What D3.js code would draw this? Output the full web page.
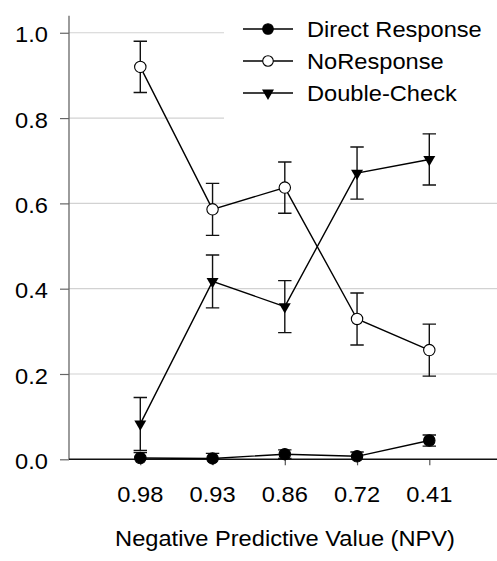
<!DOCTYPE html>
<html>
<head>
<meta charset="utf-8">
<script src="https://cdn.jsdelivr.net/npm/d3@7/dist/d3.min.js"></script>
<style>
  html, body { margin: 0; padding: 0; background: #fff; }
  svg { display: block; }
  text { font-family: "Liberation Sans", Arial, sans-serif; fill: #000; }
</style>
</head>
<body>
<svg id="chart" width="497" height="561"></svg>
<script>
// Categories along the x axis (NPV levels)
const categories = ["0.98", "0.93", "0.86", "0.72", "0.41"];

// Proportions of each response type, with error-bar half-widths
const directResponse = [0.003, 0.002, 0.012, 0.007, 0.044];
const directErr      = [0.013, 0.012, 0.010, 0.010, 0.013];
const noResponse     = [0.920, 0.586, 0.637, 0.329, 0.256];
const noRespErr      = [0.060, 0.061, 0.060, 0.061, 0.061];
const doubleCheck    = [0.083, 0.417, 0.358, 0.671, 0.703];
const doubleErr      = [0.062, 0.062, 0.061, 0.061, 0.060];

const yTicks = [0.0, 0.2, 0.4, 0.6, 0.8, 1.0];
const seriesNames = ["Direct Response", "NoResponse", "Double-Check"];
const xTitle = "Negative Predictive Value (NPV)";

const series = [
  { name: seriesNames[0], values: directResponse, err: directErr, marker: "dot" },
  { name: seriesNames[1], values: noResponse,     err: noRespErr, marker: "open" },
  { name: seriesNames[2], values: doubleCheck,    err: doubleErr, marker: "tri" }
];

const W = 497, H = 561;
const axisX = 69, plotRight = 497;
const FS = 21.5, SX = 1.1;   // font size and horizontal text stretch

const svg = d3.select("#chart");

const x = d3.scalePoint().domain(categories).range([140.3, 429.3]);
const y = d3.scaleLinear().domain([0, 1.04]).range([459.3, 15.7]);

// error bars are clipped to the plotted value range
svg.append("defs").append("clipPath").attr("id", "plotClip")
  .append("rect").attr("x", axisX).attr("y", y(1.04))
  .attr("width", plotRight - axisX).attr("height", y(0) - y(1.04));

// text helper with horizontal stretch
function label(g, tx, ty, str, anchor) {
  return g.append("text")
    .attr("transform", `translate(${tx},${ty}) scale(${SX},1)`)
    .attr("text-anchor", anchor)
    .style("font-size", FS + "px")
    .text(str);
}

// gridlines
svg.append("g").selectAll("line")
  .data(yTicks.filter(d => d > 0))
  .join("line")
  .attr("x1", axisX).attr("x2", plotRight)
  .attr("y1", d => y(d)).attr("y2", d => y(d))
  .attr("stroke", "#d2d2d2").attr("stroke-width", 1.2);

// y axis
const yAxis = svg.append("g")
  .attr("transform", `translate(${axisX},0)`)
  .call(d3.axisLeft(y).tickValues(yTicks).tickSize(9).tickFormat(() => ""));
yAxis.select(".domain").remove();
yAxis.selectAll(".tick line").attr("stroke", "#666").attr("stroke-width", 1.2);
svg.append("line")
  .attr("x1", axisX).attr("x2", axisX)
  .attr("y1", y(1.04)).attr("y2", y(0))
  .attr("stroke", "#666").attr("stroke-width", 1.3);
const yLab = svg.append("g");
yTicks.forEach(t => label(yLab, 48, y(t) + 9.7, d3.format(".1f")(t), "end"));

// x axis
const xAxis = svg.append("g")
  .attr("transform", `translate(0,${y(0)})`)
  .call(d3.axisBottom(x).tickSize(6).tickFormat(() => ""));
xAxis.select(".domain").remove();
xAxis.selectAll(".tick line").attr("stroke", "#555").attr("stroke-width", 1.2);
svg.append("line")
  .attr("x1", axisX).attr("x2", plotRight)
  .attr("y1", y(0)).attr("y2", y(0))
  .attr("stroke", "#111").attr("stroke-width", 1.4);
const xLab = svg.append("g");
categories.forEach(c => label(xLab, x(c), 502, c, "middle"));
label(svg, 285, 546, xTitle, "middle");

// marker drawing
const triPath = d3.symbol().type(d3.symbolTriangle).size(62)();
function marker(g, kind, cx, cy, r) {
  if (kind === "tri") {
    g.append("path").attr("d", triPath)
      .attr("transform", `translate(${cx},${cy}) rotate(180)`)
      .attr("fill", "#000");
  } else {
    g.append("circle").attr("cx", cx).attr("cy", cy).attr("r", r)
      .attr("fill", kind === "dot" ? "#000" : "#fff")
      .attr("stroke", "#000").attr("stroke-width", 1.1);
  }
}

// legend (white panel over the gridlines)
const leg = svg.append("g");
leg.append("rect").attr("x", 224).attr("y", 14).attr("width", W - 224).attr("height", 108)
  .attr("fill", "#fff");
series.forEach((s, i) => {
  const ly = 29 + i * 32;
  leg.append("line").attr("x1", 243).attr("x2", 293).attr("y1", ly).attr("y2", ly)
    .attr("stroke", "#000").attr("stroke-width", 1.4);
  marker(leg, s.marker, 268, ly, 5.3);
  label(leg, 307, ly + 7.8, s.name, "start");
});

// series: connecting line, error bars, markers
const line = d3.line().x((d, i) => x(categories[i])).y(d => y(d));
const cap = 6.7;
series.forEach(s => {
  const g = svg.append("g");
  g.append("path").attr("d", line(s.values))
    .attr("fill", "none").attr("stroke", "#000").attr("stroke-width", 1.4);
  const eb = g.append("g").attr("clip-path", "url(#plotClip)");
  s.values.forEach((v, i) => {
    const cx = x(categories[i]);
    const lo = y(v - s.err[i]), hi = y(v + s.err[i]);
    eb.append("line").attr("x1", cx).attr("x2", cx).attr("y1", lo).attr("y2", hi)
      .attr("stroke", "#111").attr("stroke-width", 1.4);
    [lo, hi].forEach(yy => eb.append("line")
      .attr("x1", cx - cap).attr("x2", cx + cap).attr("y1", yy).attr("y2", yy)
      .attr("stroke", "#111").attr("stroke-width", 1.4));
  });
  s.values.forEach((v, i) => marker(g, s.marker, x(categories[i]), y(v), 5.7));
});
</script>
</body>
</html>
